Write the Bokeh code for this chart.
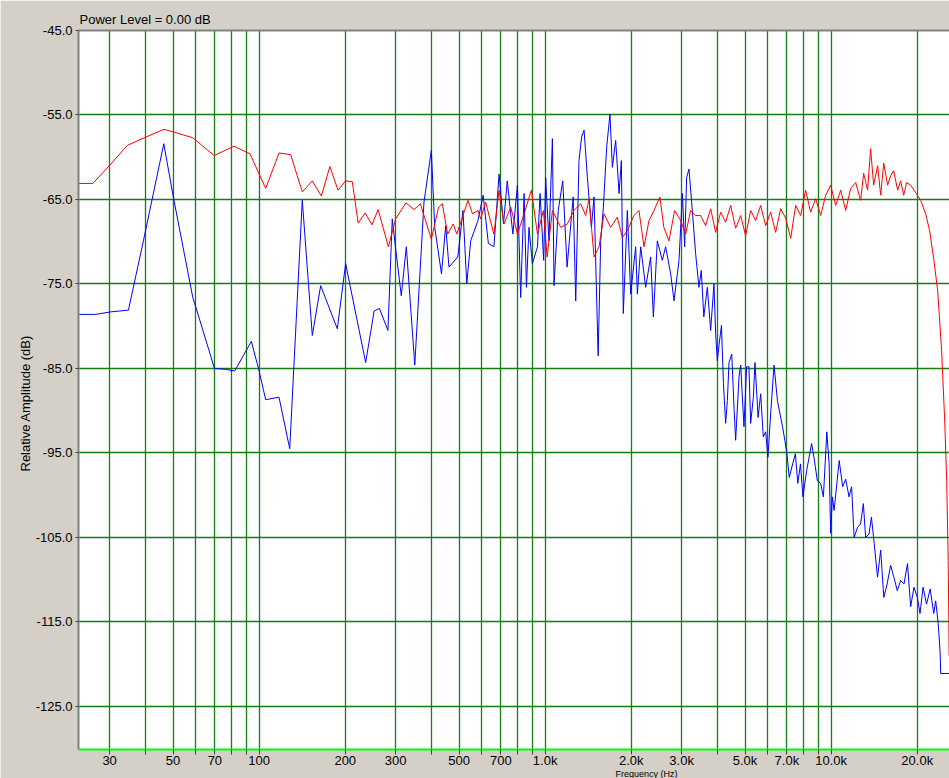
from bokeh.plotting import figure
from bokeh.models import (Range1d, FixedTicker, PrintfTickFormatter, Title, LogAxis,
                          CustomJSTickFormatter)
from bokeh.embed import file_html
from bokeh.resources import INLINE

# ---------------- data ----------------
x_ticks = [30, 40, 50, 60, 70, 80, 90, 100, 200, 300, 400, 500, 600, 700, 800, 900,
           1000, 2000, 3000, 4000, 5000, 6000, 7000, 8000, 9000, 10000, 20000]
x_tick_labels = ["30", "", "50", "", "70", "", "", "100", "200", "300", "", "500", "", "700", "", "",
                 "1.0k", "2.0k", "3.0k", "", "5.0k", "", "7.0k", "", "", "10.0k", "20.0k"]
y_ticks = [-45, -55, -65, -75, -85, -95, -105, -115, -125]

red_freq = [23.35, 26.2, 30.3, 34.6, 39.6, 46.5, 50.1, 58.6, 69.6, 81.6, 92.9, 105.4, 117.3, 128.9,
            141.5, 153.4, 165.0, 176.7, 188.6, 200.6, 211.7, 221.9, 234.8, 248.0, 260.6, 283, 300,
            326, 348, 366, 400, 424, 437, 456, 477, 491, 516, 537, 557, 582, 595, 619, 662, 690,
            718, 758, 800, 844, 895, 940, 986, 1016, 1060, 1133, 1196, 1261, 1331, 1386, 1424,
            1482, 1543, 1606, 1694, 1787, 1862, 1938, 2044, 2128, 2216, 2307, 2402, 2518, 2600,
            2710, 2836, 2977, 3099, 3226, 3358, 3497, 3640, 3790, 3946, 4107, 4276, 4452, 4635,
            4826, 5023, 5230, 5445, 5669, 5902, 6144, 6396, 6659, 6933, 7218, 7515, 7824, 8143,
            8478, 8827, 9190, 9568, 9961, 10370, 10800, 11240, 11700, 12180, 12680, 12990, 13410,
            13740, 14080, 14540, 14900, 15270, 15760, 16140, 16540, 17080, 17500, 17930, 18370,
            18970, 19750, 20560, 21400, 22100, 22830, 23580, 24340, 24950, 25350, 25660, 25860]
red_db = [-63.1, -63.1, -60.8, -58.6, -57.7, -56.7, -57.0, -57.7, -59.8, -58.7,
          -59.6, -63.7, -59.5, -59.7, -64.1, -62.8, -64.6, -61.1, -63.9, -62.8,
          -62.9, -67.8, -66.6, -68.0, -66.2, -70.6, -67.3, -65.4, -66.2, -65.5,
          -69.7, -65.9, -65.5, -69.1, -67.9, -69.1, -66.9, -65.1, -66.7, -66.3,
          -67.3, -65.3, -69.1, -63.9, -67.9, -65.9, -69.1, -66.7, -63.9, -69.1,
          -66.3, -71.8, -66.3, -68.3, -67.9, -66.3, -65.5, -66.9, -64.9, -71.8,
          -70.6, -66.7, -68.3, -67.1, -69.5, -68.7, -66.9, -66.3, -70.6, -67.5,
          -66.3, -64.7, -68.3, -69.9, -66.3, -67.5, -69.1, -66.3, -66.9, -66.9,
          -68.1, -66.1, -68.9, -66.5, -67.7, -65.7, -68.4, -66.9, -69.3, -66.3,
          -67.5, -65.7, -68.1, -66.5, -68.9, -66.1, -67.2, -69.6, -65.7, -66.9,
          -63.9, -66.5, -64.9, -66.9, -64.5, -63.3, -65.7, -63.9, -66.3, -63.7,
          -63.0, -65.1, -61.9, -63.9, -59.0, -63.3, -61.0, -64.5, -60.7, -63.3,
          -62.2, -61.6, -63.9, -62.8, -64.5, -63.0, -63.3, -64.2, -65.1, -66.7,
          -68.7, -72.0, -75.8, -82.9, -91.2, -98.3, -107.7, -119.0]

blue_freq = [23.35, 26.8, 30.3, 34.9, 39.6, 46.4, 50.1, 58.6, 60.0, 69.8,
             76.4, 82.1, 93.9, 99.8, 105.4, 117.3, 127.9, 141.5, 153.4, 164.1,
             187.6, 200.6, 235.7, 252.3, 263.3, 282, 292, 300, 314, 327,
             350, 377, 400, 411, 434, 449, 461, 495, 516, 532,
             549, 582, 607, 633, 662, 690, 715, 737, 771, 800,
             821, 844, 860, 878, 902, 940, 960, 988, 1004, 1031,
             1060, 1074, 1111, 1152, 1193, 1253, 1279, 1313, 1341, 1368,
             1405, 1451, 1482, 1532, 1564, 1598, 1641, 1685, 1718, 1764,
             1813, 1847, 1876, 1938, 1991, 2072, 2101, 2158, 2246, 2338,
             2390, 2467, 2568, 2638, 2747, 2822, 2938, 3019, 3074, 3124,
             3183, 3270, 3358, 3449, 3515, 3587, 3690, 3790, 3892, 3946,
             4000, 4053, 4134, 4202, 4276, 4336, 4394, 4492, 4580, 4635,
             4763, 4826, 4956, 5065, 5160, 5230, 5346, 5416, 5553, 5669,
             5791, 5902, 6011, 6144, 6313, 6488, 6627, 6761, 6888, 7004,
             7136, 7335, 7496, 7645, 7810, 7968, 8208, 8546, 8705, 8949,
             9190, 9395, 9656, 9838, 9961, 10100, 10240, 10670, 10970, 11240,
             11550, 11790, 12030, 12370, 12680, 12960, 13200, 13570, 13830, 14140,
             14530, 14900, 15280, 15700, 16140, 16570, 17030, 17500, 17980, 18490,
             18970, 19480, 20020, 20450, 20960, 21550, 22200, 22840, 23200, 23680,
             24060, 24150, 25960]
blue_db = [-78.6, -78.6, -78.3, -78.1, -69.5, -58.4, -64.7, -76.6, -77.7, -85.0,
           -85.1, -85.3, -81.8, -85.2, -88.7, -88.4, -94.5, -65.1, -81.1, -75.2,
           -80.3, -72.6, -84.3, -78.2, -77.9, -80.5, -67.3, -70.8, -76.4, -70.6,
           -84.6, -65.3, -59.2, -68.3, -73.8, -68.1, -73.0, -71.8, -66.3, -75.0,
           -69.9, -67.5, -64.5, -70.2, -70.6, -62.0, -67.9, -62.8, -69.1, -63.3,
           -76.6, -64.3, -75.4, -68.3, -72.6, -70.6, -64.3, -72.2, -62.4, -69.9,
           -57.8, -75.2, -66.3, -62.8, -73.0, -64.7, -77.0, -60.4, -57.6, -56.8,
           -62.4, -68.3, -64.7, -83.5, -69.9, -65.9, -58.8, -54.9, -61.2, -58.0,
           -64.3, -60.4, -78.5, -66.3, -76.2, -70.6, -76.2, -70.6, -75.4, -71.8,
           -78.9, -69.9, -72.2, -70.6, -73.8, -77.0, -72.2, -64.3, -70.6, -62.4,
           -61.4, -66.3, -71.4, -75.4, -73.4, -78.9, -75.4, -80.5, -75.0, -80.9,
           -84.1, -82.3, -79.9, -86.8, -91.5, -88.8, -84.3, -83.3, -90.0, -93.5,
           -86.0, -84.6, -91.9, -84.8, -84.8, -91.5, -88.4, -84.3, -90.8, -88.0,
           -93.1, -92.5, -95.5, -90.4, -84.6, -88.8, -90.4, -91.9, -93.5, -95.1,
           -97.9, -96.3, -95.1, -98.6, -96.3, -100.2, -97.1, -93.9, -95.5, -98.3,
           -98.6, -100.2, -92.5, -96.3, -104.5, -100.2, -101.8, -95.9, -99.0, -98.1,
           -100.2, -99.0, -105.0, -103.8, -103.4, -101.0, -105.0, -104.6, -102.6, -105.7,
           -109.7, -106.5, -112.1, -110.5, -108.3, -109.7, -111.3, -110.1, -110.5, -108.1,
           -113.2, -110.9, -112.1, -114.0, -110.9, -112.9, -111.1, -114.0, -112.5, -115.2,
           -118.8, -121.1, -121.1]

FONT = "Liberation Sans"
X_MIN, X_MAX = 23.35, 25930
Y_MIN, Y_MAX = -130.1, -45.0

p = figure(width=949, height=778, x_axis_type="log",
           x_range=Range1d(X_MIN, X_MAX), y_range=Range1d(Y_MIN, Y_MAX),
           output_backend="svg", toolbar_location=None,
           min_border_left=78, min_border_right=0, min_border_top=30, min_border_bottom=27)
p.background_fill_color = "white"
p.border_fill_color = "#d4d0c8"
p.outline_line_color = None

xax = p.below[0]
yax = p.left[0]

# bottom (frequency) axis
xax.ticker = FixedTicker(ticks=x_ticks)
xax.formatter = CustomJSTickFormatter(
    args=dict(vals=x_ticks, labs=x_tick_labels),
    code="""
    for (let i = 0; i < vals.length; i++) {
        if (Math.abs(vals[i] - tick) < 1e-6 * vals[i]) { return labs[i]; }
    }
    return '';
    """)
# left (amplitude) axis
yax.ticker = FixedTicker(ticks=y_ticks)
yax.formatter = PrintfTickFormatter(format="%.1f")

for ax in (xax, yax):
    ax.major_label_text_font = FONT
    ax.major_label_text_font_size = "13px"
    ax.major_label_text_color = "#000000"
    ax.major_tick_in = 0
    ax.minor_tick_line_color = None
    ax.major_tick_line_color = "#404040"

xax.axis_line_color = "#00ff00"
xax.axis_line_width = 2
xax.major_tick_out = 5
xax.major_label_standoff = -2
yax.axis_line_color = "#808080"
yax.axis_line_width = 2
yax.major_tick_out = 3
yax.major_label_standoff = 3

# gray rule along the top of the plot area (no ticks, no labels)
top_rule = LogAxis(ticker=FixedTicker(ticks=[]), axis_line_color="#808080", axis_line_width=2,
                   major_tick_line_color=None, minor_tick_line_color=None,
                   major_label_text_font_size="0px")
p.add_layout(top_rule, "above")

# title (top-left text)
p.title.text = "Power Level = 0.00 dB"
p.title.align = "left"
p.title.offset = 1
p.title.standoff = 8
p.title.text_font = FONT
p.title.text_font_size = "13px"
p.title.text_font_style = "normal"
p.title.text_color = "#000000"

# y caption (left) and x caption (below)
p.add_layout(Title(text="Relative Amplitude (dB)", align="left", offset=278, standoff=0,
                   text_font=FONT, text_font_size="13px", text_font_style="normal",
                   text_color="#000000"), "left")
p.add_layout(Title(text="Frequency (Hz)", align="left", offset=537, standoff=-4,
                   vertical_align="top",
                   text_font=FONT, text_font_size="9px", text_font_style="normal",
                   text_color="#000000"), "below")

p.xgrid.grid_line_color = "#108010"
p.ygrid.grid_line_color = "#108010"
p.xgrid.grid_line_width = 1.3
p.ygrid.grid_line_width = 1.3

# series
p.line(blue_freq, blue_db, line_color="#0000ff", line_width=1)
p.line(red_freq, red_db, line_color="#ff0000", line_width=1)

open("out.html", "w").write(file_html(p, INLINE))
